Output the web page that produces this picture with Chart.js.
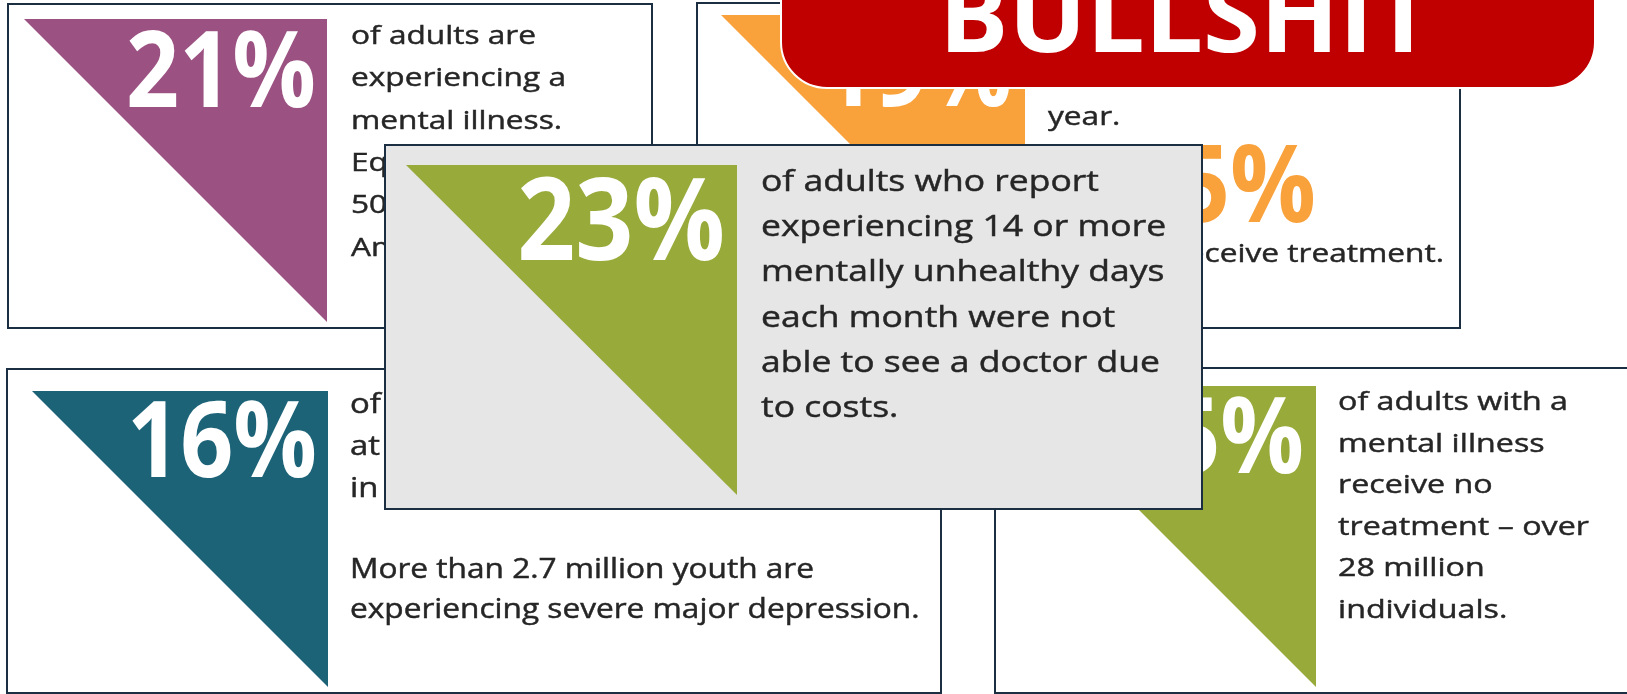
<!DOCTYPE html>
<html>
<head>
<meta charset="utf-8">
<script src="https://cdn.jsdelivr.net/npm/chart.js@4.4.0/dist/chart.umd.min.js"></script>
<style>
html, body { margin: 0; padding: 0; background: #ffffff; }
#infoChart { display: block; }
</style>
</head>
<body>
<canvas id="infoChart" width="1627" height="694"></canvas>
<script>
// --- Data: one card per statistic ---
const cardPercents = ['21%', '19%', '23%', '16%', '55%'];
const cardColors = ['#9b5282', '#f9a13a', '#98aa3a', '#1c6377', '#98aa3a'];
const cardCaptions = [
    ['of adults are', 'experiencing a', 'mental illness.', 'Equivalent to', '50 million', 'Americans.'],
    ['of adults reported', 'an unmet need this', 'year.'],
    ['of adults who report', 'experiencing 14 or more', 'mentally unhealthy days', 'each month were not', 'able to see a doctor due', 'to costs.'],
    ['of youth (12-17) had', 'at least one major depressive episode', 'in the past year.'],
    ['of adults with a', 'mental illness', 'receive no', 'treatment \u2013 over', '28 million', 'individuals.']
];
const youthNote = ['More than 2.7 million youth are', 'experiencing severe major depression.'];
const treatedPercent = '45%';
const treatedCaption = 'of adults receive treatment.';
const bannerText = 'BULLSHIT';

// --- Layout (picture units, y from the top) ---
const borderColor = '#1b2e42';
const textColor = '#262626';
const fontFamily = "'Open Sans', sans-serif";
const cards = [
    { box: [8, 4, 652, 328], fill: '#ffffff', tri: [24, 19, 327, 322], numRight: 316, numBase: 107, capH: 75,
      textX: 351, textBase: 44, lineH: 42.3, textSize: 25.5, refW: 185 },
    { box: [697, 3, 1460, 328], fill: '#ffffff', tri: [721, 15, 1025, 319], numRight: 1012, numBase: 106, capH: 75,
      textX: 1048, textBase: 41, lineH: 42, textSize: 25.5, refW: null },
    { box: [385, 145, 1202, 509], fill: '#e6e6e6', tri: [406, 165, 737, 495], numRight: 725, numBase: 260, capH: 82,
      textX: 761, textBase: 191, lineH: 45.2, textSize: 29.5, refW: 338 },
    { box: [7, 369, 941, 693], fill: '#ffffff', tri: [32, 391, 328, 687], numRight: 317, numBase: 477, capH: 75,
      textX: 350, textBase: 413, lineH: 42, textSize: 26.5, refW: null },
    { box: [995, 368, 1660, 693], fill: '#ffffff', tri: [1015, 386, 1316, 687], numRight: 1304, numBase: 473, capH: 75,
      textX: 1338, textBase: 410, lineH: 41.6, textSize: 26, refW: 230 }
];
const drawOrder = [0, 1, 3, 4, 2];

// Dibuja las tarjetas con las escalas del gráfico
const infographicPlugin = {
    id: 'infographic',
    afterDraw(chart) {
        const ctx = chart.ctx;
        const xs = chart.scales.x;
        const ys = chart.scales.y;
        const px = v => xs.getPixelForValue(v);
        const py = v => ys.getPixelForValue(v);

        function textScale(text, size, weight, target) {
            ctx.font = `${weight} ${size}px ${fontFamily}`;
            return target / ctx.measureText(text).width;
        }

        function drawText(text, x, base, size, weight, color, sx, align, thicken) {
            ctx.save();
            ctx.font = `${weight} ${size}px ${fontFamily}`;
            ctx.fillStyle = color;
            ctx.textAlign = align || 'left';
            ctx.textBaseline = 'alphabetic';
            ctx.translate(px(x), py(base));
            ctx.scale(sx, 1);
            ctx.fillText(text, 0, 0);
            if (thicken) {
                ctx.strokeStyle = color;
                ctx.lineWidth = thicken;
                ctx.strokeText(text, 0, 0);
            }
            ctx.restore();
        }

        const baseScale = textScale(cardCaptions[0][0], cards[0].textSize, 'normal', cards[0].refW);
        const bigScale = textScale(cardPercents[0], cards[0].capH / 0.714, 'bold', 190);

        drawOrder.forEach(i => {
            const c = cards[i];
            const [x0, y0, x1, y1] = c.box;
            ctx.save();
            ctx.fillStyle = c.fill;
            ctx.fillRect(px(x0), py(y0), px(x1) - px(x0), py(y1) - py(y0));
            ctx.strokeStyle = borderColor;
            ctx.lineWidth = 2;
            ctx.strokeRect(px(x0), py(y0), px(x1) - px(x0), py(y1) - py(y0));

            const [tx0, ty0, tx1, ty1] = c.tri;
            ctx.beginPath();
            ctx.moveTo(px(tx0), py(ty0));
            ctx.lineTo(px(tx1), py(ty0));
            ctx.lineTo(px(tx1), py(ty1));
            ctx.closePath();
            ctx.fillStyle = cardColors[i];
            ctx.fill();
            ctx.restore();

            drawText(cardPercents[i], c.numRight, c.numBase, c.capH / 0.714, 'bold', '#ffffff', bigScale, 'right');

            const sx = c.refW ? textScale(cardCaptions[i][0], c.textSize, 'normal', c.refW) : baseScale;
            cardCaptions[i].forEach((line, k) => {
                drawText(line, c.textX, c.textBase + k * c.lineH, c.textSize, 'normal', textColor, sx, 'left', 0.45);
            });

            if (i === 1) {
                drawText(treatedPercent, 1316, 222, 77 / 0.714, 'bold', cardColors[1], bigScale, 'right');
                drawText(treatedCaption, 1444, 262, c.textSize, 'normal', textColor, baseScale, 'right', 0.45);
            }
            if (i === 3) {
                const ns = textScale(youthNote[0], c.textSize, 'normal', 464);
                youthNote.forEach((line, k) => {
                    drawText(line, c.textX, 578 + k * 40, c.textSize, 'normal', textColor, ns, 'left', 0.45);
                });
            }
        });

        // Banner rojo encima de todo
        ctx.save();
        const bx0 = px(781), bx1 = px(1595), by0 = py(-80), by1 = py(88);
        ctx.beginPath();
        ctx.roundRect(bx0, by0, bx1 - bx0, by1 - by0, 46);
        ctx.fillStyle = '#c00000';
        ctx.fill();
        ctx.strokeStyle = '#ffffff';
        ctx.lineWidth = 2;
        ctx.stroke();
        ctx.restore();
        const bs = textScale(bannerText, 102, 'bold', 494);
        drawText(bannerText, 939, 52, 102, 'bold', '#ffffff', bs);
    }
};

new Chart(document.getElementById('infoChart'), {
    type: 'scatter',
    data: { datasets: [{ data: [] }] },
    options: {
        responsive: false,
        animation: false,
        devicePixelRatio: 1,
        layout: { padding: 0 },
        plugins: { legend: { display: false }, tooltip: { enabled: false } },
        scales: {
            x: { type: 'linear', min: 0, max: 1627, display: false },
            y: { type: 'linear', min: 0, max: 694, reverse: true, display: false }
        }
    },
    plugins: [infographicPlugin]
});
</script>
</body>
</html>
